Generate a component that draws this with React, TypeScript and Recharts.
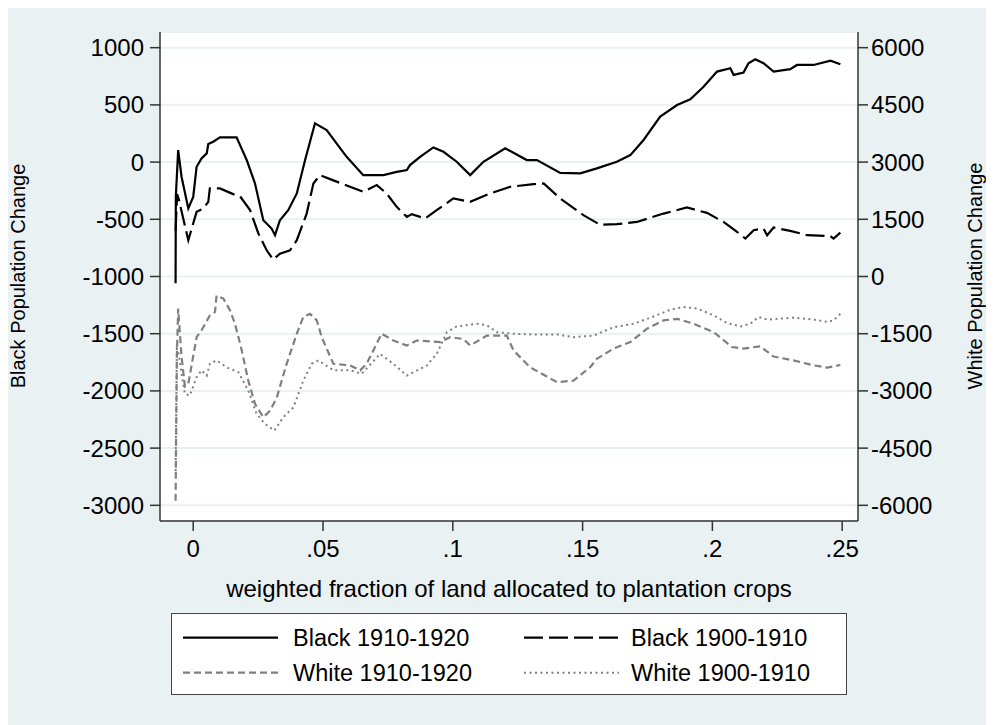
import React from "react";
import { LineChart, Line, XAxis, YAxis, CartesianGrid } from "recharts";

const xTicks = [0, 0.05, 0.1, 0.15, 0.2, 0.25];
const xTickLabels = ["0", ".05", ".1", ".15", ".2", ".25"];
const blackTicks = [-3000, -2500, -2000, -1500, -1000, -500, 0, 500, 1000];
const whiteTicks = [-6000, -4500, -3000, -1500, 0, 1500, 3000, 4500, 6000];

const xTitle = "weighted fraction of land allocated to plantation crops";
const leftTitle = "Black Population Change";
const rightTitle = "White Population Change";
const seriesNames = ["Black 1910-1920", "Black 1900-1910", "White 1910-1920", "White 1900-1910"];

// [fraction, black population change]
const black1910: [number, number][] = [
  [-0.0068, -1060], [-0.0067, -300], [-0.0058, 105], [-0.0045, -128], [-0.0019, -405], [0.0, -304],
  [0.0013, -41], [0.0032, 32], [0.0052, 76], [0.0058, 158], [0.0077, 178], [0.0103, 216], [0.0167, 216],
  [0.0206, 18], [0.0238, -187], [0.027, -508], [0.0302, -581], [0.0315, -639], [0.0334, -508],
  [0.0366, -420], [0.0399, -274], [0.0431, 18], [0.0469, 339], [0.0514, 280], [0.0591, 46],
  [0.0655, -114], [0.0733, -114], [0.0784, -85], [0.0823, -70], [0.0835, -26], [0.0874, 46],
  [0.0925, 128], [0.0964, 90], [0.1015, 3], [0.1067, -114], [0.1118, 3], [0.1202, 120], [0.1285, 18],
  [0.1324, 18], [0.1414, -94], [0.1491, -99], [0.1555, -55], [0.1632, 3], [0.1684, 61], [0.1735, 193],
  [0.1799, 397], [0.1864, 499], [0.1915, 549], [0.1966, 659], [0.2018, 791], [0.2069, 820],
  [0.2082, 762], [0.212, 782], [0.2139, 864], [0.2165, 899], [0.2197, 864], [0.2236, 791], [0.23, 812],
  [0.2326, 849], [0.239, 849], [0.2455, 887], [0.2493, 855],
];

const black1900: [number, number][] = [
  [-0.0068, -600], [-0.0062, -280], [-0.0055, -330], [-0.0045, -430], [-0.0019, -683], [0.0013, -435],
  [0.0039, -405], [0.0058, -347], [0.0064, -230], [0.0103, -230], [0.0154, -280], [0.018, -298],
  [0.0219, -420], [0.0251, -624], [0.0283, -771], [0.0308, -852], [0.0334, -800], [0.0373, -771],
  [0.0399, -683], [0.0437, -450], [0.0463, -187], [0.0488, -114], [0.054, -160], [0.0604, -216],
  [0.0655, -260], [0.0707, -201], [0.0745, -274], [0.0784, -391], [0.0823, -479], [0.0842, -455],
  [0.0893, -493], [0.0938, -420], [0.1002, -318], [0.1067, -347], [0.1144, -274], [0.1221, -216],
  [0.1311, -193], [0.135, -187], [0.1414, -318], [0.1503, -464], [0.1568, -548], [0.1632, -543],
  [0.1709, -523], [0.1812, -450], [0.1902, -397], [0.1979, -444], [0.2043, -523], [0.2095, -610],
  [0.2127, -668], [0.2159, -595], [0.2197, -581], [0.2211, -639], [0.2236, -572], [0.23, -601],
  [0.2365, -639], [0.2455, -648], [0.2467, -668], [0.2493, -616],
];

// [fraction, white population change]
const white1910: [number, number][] = [
  [-0.0068, -5880], [-0.0063, -2100], [-0.0058, -840], [-0.0045, -2100], [-0.0032, -2880],
  [-0.0019, -2810], [0.0013, -1590], [0.0032, -1410], [0.0064, -1020], [0.0084, -930], [0.009, -500],
  [0.0116, -580], [0.0142, -890], [0.0161, -1240], [0.0187, -1940], [0.0212, -2730], [0.0238, -3340],
  [0.027, -3690], [0.0296, -3520], [0.0322, -3170], [0.036, -2290], [0.0399, -1500], [0.0424, -1060],
  [0.045, -980], [0.0476, -1150], [0.0495, -1590], [0.054, -2290], [0.0604, -2330], [0.0643, -2460],
  [0.0668, -2290], [0.0726, -1500], [0.0771, -1680], [0.0823, -1810], [0.0861, -1680], [0.0951, -1720],
  [0.099, -1590], [0.1041, -1640], [0.1067, -1810], [0.1131, -1550], [0.1208, -1550], [0.1234, -1940],
  [0.1298, -2380], [0.1401, -2770], [0.1465, -2730], [0.1529, -2380], [0.1555, -2160], [0.1619, -1890],
  [0.1684, -1720], [0.1748, -1370], [0.1812, -1150], [0.1864, -1110], [0.1928, -1240], [0.2005, -1460],
  [0.2076, -1850], [0.212, -1890], [0.2185, -1830], [0.2236, -2100], [0.2313, -2200], [0.239, -2330],
  [0.2442, -2390], [0.2493, -2320],
];

const white1900: [number, number][] = [
  [-0.0068, -5100], [-0.0063, -1890], [-0.0058, -1950], [-0.0045, -2550], [-0.0032, -3080],
  [-0.0013, -3120], [0.0013, -2640], [0.0032, -2460], [0.0052, -2600], [0.0064, -2290], [0.009, -2200],
  [0.0129, -2380], [0.0174, -2510], [0.0212, -2990], [0.0244, -3600], [0.0276, -3860], [0.0312, -4040],
  [0.0347, -3690], [0.0386, -3430], [0.0424, -2730], [0.0456, -2290], [0.0482, -2200], [0.054, -2460],
  [0.0604, -2460], [0.0649, -2550], [0.072, -2030], [0.0771, -2290], [0.0823, -2600], [0.09, -2330],
  [0.0938, -2030], [0.0977, -1460], [0.1015, -1310], [0.1093, -1240], [0.1131, -1280], [0.117, -1460],
  [0.1234, -1500], [0.1311, -1520], [0.1401, -1520], [0.1465, -1590], [0.1542, -1550], [0.1619, -1330],
  [0.1696, -1240], [0.1773, -1050], [0.1838, -870], [0.1889, -800], [0.1941, -840], [0.2005, -1020],
  [0.2056, -1220], [0.2108, -1310], [0.2146, -1240], [0.2178, -1060], [0.2211, -1130], [0.2313, -1080],
  [0.239, -1130], [0.2442, -1190], [0.2467, -1150], [0.2493, -980],
];

const toPoints = (arr: [number, number][]) => arr.map(([x, y]) => ({ x, y }));

const FONT = "'Liberation Sans', Arial, Helvetica, sans-serif";
const AXIS = "#333333";
const GRAY = "#7f7f7f";

const styles = [
  { stroke: "#000", dash: undefined as string | undefined, width: 2.2 },
  { stroke: "#000", dash: "19 6", width: 2.2 },
  { stroke: GRAY, dash: "7 4", width: 2.2 },
  { stroke: GRAY, dash: "2 3.5", width: 2 },
];

const fmtX = (v: number) => {
  const i = xTicks.findIndex((t) => Math.abs(t - v) < 1e-9);
  return i >= 0 ? xTickLabels[i] : String(v);
};

export default function App() {
  const W = 987;
  const H = 720;
  const legendItems = [
    { name: seriesNames[0], st: styles[0], col: 0, row: 0 },
    { name: seriesNames[1], st: styles[1], col: 1, row: 0 },
    { name: seriesNames[2], st: styles[2], col: 0, row: 1 },
    { name: seriesNames[3], st: styles[3], col: 1, row: 1 },
  ];
  const colSample = [11, 352];
  const colText = [121, 459];
  const rowY = [23.7, 58.7];
  return (
    <div
      style={{
        position: "relative",
        width: W,
        height: H,
        background: "#e9f1f3",
        margin: "-3px 0 0 -1px",
        fontFamily: FONT,
      }}
    >
      <LineChart width={W} height={H} margin={{ top: 27, right: 36, bottom: 144, left: 53 }}>
        <CartesianGrid
          yAxisId="left"
          vertical={false}
          horizontal={true}
          stroke="#e9f1f3"
          strokeWidth={2}
          fill="#ffffff"
          fillOpacity={1}
        />
        <XAxis
          type="number"
          dataKey="x"
          domain={[-0.0128, 0.2561]}
          allowDataOverflow
          ticks={xTicks}
          tickFormatter={fmtX}
          height={60}
          tickSize={10}
          tickMargin={9}
          stroke={AXIS}
          strokeWidth={1.5}
          tick={{ fill: "#000", fontSize: 24, fontFamily: FONT }}
          tickLine={{ stroke: AXIS, strokeWidth: 1.5 }}
        />
        <YAxis
          yAxisId="left"
          orientation="left"
          type="number"
          domain={[-3137, 1137]}
          allowDataOverflow
          ticks={blackTicks}
          width={100}
          tickSize={10}
          tickMargin={6}
          stroke={AXIS}
          strokeWidth={1.5}
          tick={{ fill: "#000", fontSize: 24, fontFamily: FONT }}
          tickLine={{ stroke: AXIS, strokeWidth: 1.5 }}
        />
        <YAxis
          yAxisId="right"
          orientation="right"
          type="number"
          domain={[-6411, 6411]}
          allowDataOverflow
          ticks={whiteTicks}
          width={100}
          tickSize={10}
          tickMargin={3}
          stroke={AXIS}
          strokeWidth={1.5}
          tick={{ fill: "#000", fontSize: 24, fontFamily: FONT }}
          tickLine={{ stroke: AXIS, strokeWidth: 1.5 }}
        />
        <Line
          yAxisId="right"
          data={toPoints(white1900)}
          dataKey="y"
          name={seriesNames[3]}
          type="linear"
          dot={false}
          stroke={styles[3].stroke}
          strokeWidth={styles[3].width}
          strokeDasharray={styles[3].dash}
          isAnimationActive={false}
        />
        <Line
          yAxisId="right"
          data={toPoints(white1910)}
          dataKey="y"
          name={seriesNames[2]}
          type="linear"
          dot={false}
          stroke={styles[2].stroke}
          strokeWidth={styles[2].width}
          strokeDasharray={styles[2].dash}
          isAnimationActive={false}
        />
        <Line
          yAxisId="left"
          data={toPoints(black1900)}
          dataKey="y"
          name={seriesNames[1]}
          type="linear"
          dot={false}
          stroke={styles[1].stroke}
          strokeWidth={styles[1].width}
          strokeDasharray={styles[1].dash}
          isAnimationActive={false}
        />
        <Line
          yAxisId="left"
          data={toPoints(black1910)}
          dataKey="y"
          name={seriesNames[0]}
          type="linear"
          dot={false}
          stroke={styles[0].stroke}
          strokeWidth={styles[0].width}
          isAnimationActive={false}
        />
      </LineChart>

      <svg
        width={W}
        height={H}
        style={{ position: "absolute", left: 0, top: 0, pointerEvents: "none" }}
      >
        <text
          x={502}
          y={592}
          textAnchor="middle"
          fontSize={24}
          fontFamily={FONT}
          fill="#000"
        >
          {xTitle}
        </text>
        <text
          x={0}
          y={0}
          transform="translate(18 271) rotate(-90)"
          textAnchor="middle"
          fontSize={20}
          fontFamily={FONT}
          fill="#000"
        >
          {leftTitle}
        </text>
        <text
          x={0}
          y={0}
          transform="translate(975 271) rotate(-90)"
          textAnchor="middle"
          fontSize={20}
          fontFamily={FONT}
          fill="#000"
        >
          {rightTitle}
        </text>
      </svg>

      <div
        style={{
          position: "absolute",
          left: 164,
          top: 608,
          width: 676,
          height: 82,
          boxSizing: "border-box",
          border: "1.5px solid #444",
          background: "#fff",
        }}
      >
        <svg width={673} height={79} style={{ display: "block" }}>
          {legendItems.map((it, i) => (
            <g key={i}>
              <line
                x1={colSample[it.col]}
                x2={colSample[it.col] + 95}
                y1={rowY[it.row]}
                y2={rowY[it.row]}
                stroke={it.st.stroke}
                strokeWidth={it.st.width}
                strokeDasharray={it.st.dash}
              />
              <text
                x={colText[it.col]}
                y={rowY[it.row] + 8.5}
                fontSize={23.5}
                fontFamily={FONT}
                fill="#000"
              >
                {it.name}
              </text>
            </g>
          ))}
        </svg>
      </div>
    </div>
  );
}
